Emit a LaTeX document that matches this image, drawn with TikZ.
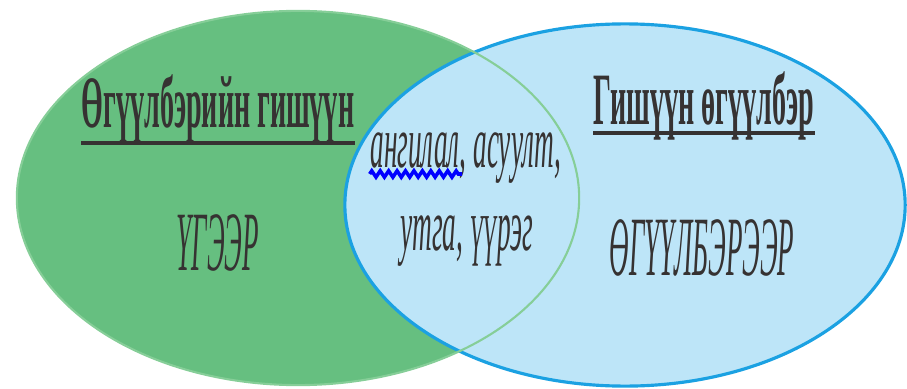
\documentclass[tikz,border=0pt]{standalone}
\usepackage{fontspec}
\setmainfont{Liberation Serif}
\newfontfamily\mnbold[FakeStretch=0.38]{Liberation Serif}
\newfontfamily\mnital[FakeStretch=0.32]{Liberation Serif}
\newfontfamily\mnmid[FakeStretch=0.37]{Liberation Serif}
\usetikzlibrary{calc,shapes.geometric,decorations.pathmorphing}
\definecolor{setgreen}{HTML}{66BF80}
\definecolor{setgreenline}{HTML}{86CE98}
\definecolor{setblue}{HTML}{BDE5F8}
\definecolor{setblueline}{HTML}{1BA1E2}
\definecolor{ink}{HTML}{363232}
\tikzset{
    groupset/.style={
    ellipse,inner sep=0pt
    },
    heading/.style={
    anchor=base,inner sep=0pt,text=ink,font=\mnbold\bfseries\fontsize{21}{24}\selectfont
    },
    entry/.style={
    anchor=base,inner sep=0pt,text=ink,font=\mnital\itshape\fontsize{24}{28}\selectfont
    },
    midentry/.style={
    entry,font=\mnmid\itshape\fontsize{21}{24}\selectfont
    },
    uline/.style={
    draw=ink,line width=1.2pt
    },
    spell/.style={
    draw=blue,line width=1pt,decorate,decoration={zigzag,amplitude=0.9pt,segment length=2.4pt}
    },
}
\begin{document}
\begin{tikzpicture}[x=0.01cm,y=-0.01cm]
   \useasboundingbox (0,0) rectangle (907,388);
   % the two sets
   \node[groupset,fill=setgreen,minimum width=5.62cm,minimum height=3.74cm] (G) at (298,198) {};
   \node[groupset,fill=setblue,draw=setblueline,line width=0.9pt,minimum width=5.6cm,minimum height=3.62cm] (B) at (625,205) {};
   \node[groupset,draw=setgreenline,line width=0.6pt,minimum width=5.62cm,minimum height=3.74cm] (Gb) at (298,198) {};

   % headings
   \node[heading] (Gt) at (218,127) {Өгүүлбэрийн гишүүн};
   \node[heading] (Bt) at (704,125) {Гишүүн өгүүлбэр};
   \draw[uline] ($(Gt.base west)+(0,16)$) -- ($(Gt.base east)+(0,16)$);
   \draw[uline] ($(Bt.base west)+(0,8)$) -- ($(Bt.base east)+(0,8)$);

   % contents
   \node[entry] (Gw) at (218,270) {ҮГЭЭР};
   \node[entry] (Bw) at (702,275) {ӨГҮҮЛБЭРЭЭР};
   \node[midentry] (M1) at (466,167) {ангилал, асуулт,};
   \node[midentry] (M2) at (467,250) {утга, үүрэг};
   \draw[spell] ($(M1.base west)+(0,7)$) -- ($(M1.base west)!0.48!(M1.base east)+(0,7)$);
\end{tikzpicture}
\end{document}
